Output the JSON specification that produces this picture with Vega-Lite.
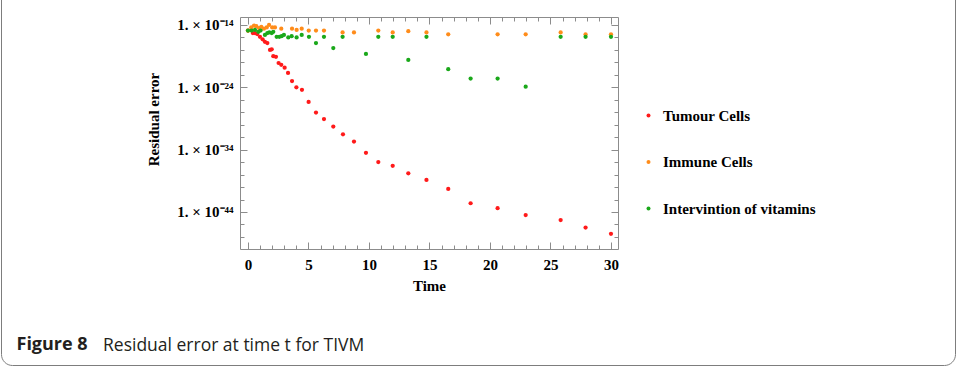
{
  "$schema": "https://vega.github.io/schema/vega-lite/v6.json",
  "width": 954,
  "height": 385,
  "autosize": {"type": "none"},
  "padding": {"left": 1, "top": -20, "right": 3, "bottom": 8},
  "background": "white",
  "view": {"stroke": "#7d7d7d", "strokeWidth": 1, "cornerRadius": 11, "fill": "white"},
  "title": {
    "text": "Residual error at time t for TIVM",
    "orient": "bottom",
    "anchor": "start",
    "frame": "group",
    "offset": -28,
    "dx": 102,
    "font": "Open Sans",
    "fontSize": 17.5,
    "fontWeight": "normal",
    "color": "#231f20"
  },
  "data": {
    "values": [
      {"t": 0, "err": 1.26e-15, "series": "Tumour Cells"},
      {"t": 0.4, "err": 5.0e-16, "series": "Tumour Cells"},
      {"t": 0.58, "err": 5.0e-16, "series": "Tumour Cells"},
      {"t": 0.77, "err": 3.55e-16, "series": "Tumour Cells"},
      {"t": 0.99, "err": 1.26e-16, "series": "Tumour Cells"},
      {"t": 1.21, "err": 5.0e-17, "series": "Tumour Cells"},
      {"t": 1.4, "err": 2.0e-17, "series": "Tumour Cells"},
      {"t": 1.6, "err": 1.26e-17, "series": "Tumour Cells"},
      {"t": 1.82, "err": 1.0e-18, "series": "Tumour Cells"},
      {"t": 1.96, "err": 1.26e-18, "series": "Tumour Cells"},
      {"t": 2.09, "err": 1.0e-19, "series": "Tumour Cells"},
      {"t": 2.31, "err": 7.94e-20, "series": "Tumour Cells"},
      {"t": 2.53, "err": 7.94e-21, "series": "Tumour Cells"},
      {"t": 2.75, "err": 3.98e-21, "series": "Tumour Cells"},
      {"t": 3.03, "err": 1.41e-21, "series": "Tumour Cells"},
      {"t": 3.31, "err": 2.0e-22, "series": "Tumour Cells"},
      {"t": 3.64, "err": 1.0e-23, "series": "Tumour Cells"},
      {"t": 4.0, "err": 1.0e-24, "series": "Tumour Cells"},
      {"t": 4.46, "err": 3.98e-25, "series": "Tumour Cells"},
      {"t": 5.01, "err": 4.47e-27, "series": "Tumour Cells"},
      {"t": 5.62, "err": 8.91e-29, "series": "Tumour Cells"},
      {"t": 6.28, "err": 7.94e-30, "series": "Tumour Cells"},
      {"t": 7.05, "err": 5.0e-31, "series": "Tumour Cells"},
      {"t": 7.85, "err": 2.82e-32, "series": "Tumour Cells"},
      {"t": 8.76, "err": 2.0e-33, "series": "Tumour Cells"},
      {"t": 9.75, "err": 3.16e-35, "series": "Tumour Cells"},
      {"t": 10.77, "err": 1.0e-36, "series": "Tumour Cells"},
      {"t": 11.96, "err": 2.51e-37, "series": "Tumour Cells"},
      {"t": 13.25, "err": 1.58e-38, "series": "Tumour Cells"},
      {"t": 14.75, "err": 1.41e-39, "series": "Tumour Cells"},
      {"t": 16.55, "err": 5.0e-41, "series": "Tumour Cells"},
      {"t": 18.4, "err": 2.51e-43, "series": "Tumour Cells"},
      {"t": 20.63, "err": 3.98e-44, "series": "Tumour Cells"},
      {"t": 22.95, "err": 3.16e-45, "series": "Tumour Cells"},
      {"t": 25.84, "err": 5.0e-46, "series": "Tumour Cells"},
      {"t": 27.9, "err": 3.16e-47, "series": "Tumour Cells"},
      {"t": 30, "err": 3.16e-48, "series": "Tumour Cells"},

      {"t": 0, "err": 1.26e-15, "series": "Immune Cells"},
      {"t": 0.27, "err": 3.98e-15, "series": "Immune Cells"},
      {"t": 0.5, "err": 7.94e-15, "series": "Immune Cells"},
      {"t": 0.69, "err": 6.31e-15, "series": "Immune Cells"},
      {"t": 0.91, "err": 3.16e-15, "series": "Immune Cells"},
      {"t": 1.1, "err": 5.0e-15, "series": "Immune Cells"},
      {"t": 1.32, "err": 2.51e-15, "series": "Immune Cells"},
      {"t": 1.55, "err": 3.98e-15, "series": "Immune Cells"},
      {"t": 1.74, "err": 1.0e-14, "series": "Immune Cells"},
      {"t": 2.0, "err": 3.98e-15, "series": "Immune Cells"},
      {"t": 2.23, "err": 3.98e-15, "series": "Immune Cells"},
      {"t": 2.75, "err": 2.51e-15, "series": "Immune Cells"},
      {"t": 3.64, "err": 2.51e-15, "series": "Immune Cells"},
      {"t": 4.02, "err": 1.58e-15, "series": "Immune Cells"},
      {"t": 4.44, "err": 2.51e-15, "series": "Immune Cells"},
      {"t": 5.02, "err": 1.26e-15, "series": "Immune Cells"},
      {"t": 5.62, "err": 1.26e-15, "series": "Immune Cells"},
      {"t": 6.28, "err": 1.26e-15, "series": "Immune Cells"},
      {"t": 7.82, "err": 6.31e-16, "series": "Immune Cells"},
      {"t": 8.76, "err": 6.31e-16, "series": "Immune Cells"},
      {"t": 10.77, "err": 1.26e-15, "series": "Immune Cells"},
      {"t": 11.96, "err": 6.31e-16, "series": "Immune Cells"},
      {"t": 13.25, "err": 1.0e-15, "series": "Immune Cells"},
      {"t": 14.75, "err": 6.31e-16, "series": "Immune Cells"},
      {"t": 16.55, "err": 3.16e-16, "series": "Immune Cells"},
      {"t": 20.63, "err": 3.16e-16, "series": "Immune Cells"},
      {"t": 22.95, "err": 3.16e-16, "series": "Immune Cells"},
      {"t": 25.84, "err": 6.31e-16, "series": "Immune Cells"},
      {"t": 27.9, "err": 3.16e-16, "series": "Immune Cells"},
      {"t": 30, "err": 3.16e-16, "series": "Immune Cells"},

      {"t": 0, "err": 1.26e-15, "series": "Intervintion of vitamins"},
      {"t": 0.3, "err": 1.26e-15, "series": "Intervintion of vitamins"},
      {"t": 0.58, "err": 1.58e-15, "series": "Intervintion of vitamins"},
      {"t": 0.85, "err": 7.94e-16, "series": "Intervintion of vitamins"},
      {"t": 1.04, "err": 1.26e-15, "series": "Intervintion of vitamins"},
      {"t": 1.4, "err": 2.51e-16, "series": "Intervintion of vitamins"},
      {"t": 1.6, "err": 5.0e-16, "series": "Intervintion of vitamins"},
      {"t": 1.76, "err": 6.31e-16, "series": "Intervintion of vitamins"},
      {"t": 1.96, "err": 5.0e-16, "series": "Intervintion of vitamins"},
      {"t": 2.09, "err": 7.94e-16, "series": "Intervintion of vitamins"},
      {"t": 2.37, "err": 1.26e-16, "series": "Intervintion of vitamins"},
      {"t": 2.59, "err": 1.26e-16, "series": "Intervintion of vitamins"},
      {"t": 2.78, "err": 1.58e-16, "series": "Intervintion of vitamins"},
      {"t": 2.97, "err": 2.51e-16, "series": "Intervintion of vitamins"},
      {"t": 3.33, "err": 1.0e-16, "series": "Intervintion of vitamins"},
      {"t": 3.61, "err": 1.58e-16, "series": "Intervintion of vitamins"},
      {"t": 4.02, "err": 1.0e-16, "series": "Intervintion of vitamins"},
      {"t": 4.44, "err": 2.51e-16, "series": "Intervintion of vitamins"},
      {"t": 5.04, "err": 1.26e-16, "series": "Intervintion of vitamins"},
      {"t": 5.62, "err": 1.26e-17, "series": "Intervintion of vitamins"},
      {"t": 6.28, "err": 1.26e-16, "series": "Intervintion of vitamins"},
      {"t": 7.05, "err": 2.0e-18, "series": "Intervintion of vitamins"},
      {"t": 7.82, "err": 1.26e-16, "series": "Intervintion of vitamins"},
      {"t": 9.75, "err": 2.24e-19, "series": "Intervintion of vitamins"},
      {"t": 10.77, "err": 1.26e-16, "series": "Intervintion of vitamins"},
      {"t": 11.96, "err": 1.26e-16, "series": "Intervintion of vitamins"},
      {"t": 13.25, "err": 2.51e-20, "series": "Intervintion of vitamins"},
      {"t": 14.75, "err": 1.26e-16, "series": "Intervintion of vitamins"},
      {"t": 16.55, "err": 7.94e-22, "series": "Intervintion of vitamins"},
      {"t": 18.4, "err": 2.51e-23, "series": "Intervintion of vitamins"},
      {"t": 20.63, "err": 2.51e-23, "series": "Intervintion of vitamins"},
      {"t": 22.95, "err": 1.26e-24, "series": "Intervintion of vitamins"},
      {"t": 25.84, "err": 1.26e-16, "series": "Intervintion of vitamins"},
      {"t": 27.9, "err": 1.26e-16, "series": "Intervintion of vitamins"},
      {"t": 30, "err": 1.26e-16, "series": "Intervintion of vitamins"}
    ]
  },
  "resolve": {"axis": {"x": "independent", "y": "independent"}},
  "layer": [
    {
      "mark": {"type": "point", "filled": true, "opacity": 1, "size": 18},
      "encoding": {
        "x": {
          "field": "t", "type": "quantitative",
          "scale": {"domain": [-0.66, 30.58], "range": [239, 617], "nice": false, "zero": false},
          "axis": {
            "orient": "bottom", "offset": -116, "ticks": false, "domain": false, "grid": false,
            "values": [0, 5, 10, 15, 20, 25, 30],
            "labelFont": "Liberation Serif", "labelFontWeight": "bold", "labelFontSize": 15, "labelColor": "black",
            "labelPadding": 8, "labelFlush": false, "labelOverlap": false,
            "title": "Time", "titleFont": "Liberation Serif", "titleFontWeight": "bold", "titleFontSize": 15,
            "titleColor": "black", "titleBaseline": "alphabetic", "titleY": 41
          }
        },
        "y": {
          "field": "err", "type": "quantitative",
          "scale": {"type": "log", "domain": [1.15e-50, 1.9e-13], "range": [269, 37], "nice": false},
          "axis": {
            "orient": "left", "offset": -239, "ticks": false, "domain": false, "grid": false,
            "values": [1e-44, 1e-34, 1e-24, 1e-14],
            "labelExpr": "datum.value < 1e-40 ? '1. × 10⁻⁴⁴' : datum.value < 1e-30 ? '1. × 10⁻³⁴' : datum.value < 1e-20 ? '1. × 10⁻²⁴' : '1. × 10⁻¹⁴'",
            "labelFont": "Liberation Serif", "labelFontWeight": "bold", "labelFontSize": 15, "labelColor": "black",
            "labelPadding": 7, "labelFlush": false, "labelOverlap": false,
            "title": "Residual error", "titleFont": "Liberation Serif", "titleFontWeight": "bold", "titleFontSize": 15,
            "titleColor": "black", "titleX": -79, "titleY": 139
          }
        },
        "color": {
          "field": "series", "type": "nominal",
          "scale": {"domain": ["Tumour Cells", "Immune Cells", "Intervintion of vitamins"], "range": ["#ff1a1a", "#ff8c1a", "#1aa81a"]},
          "legend": {
            "orient": "none", "legendX": 640, "legendY": 128, "title": null, "direction": "vertical",
            "padding": 0, "symbolType": "circle", "symbolSize": 16, "symbolStrokeWidth": 0,
            "labelFont": "Liberation Serif", "labelFontWeight": "bold", "labelFontSize": 15, "labelColor": "black",
            "labelOffset": 7, "rowPadding": 30.5
          }
        }
      }
    },
    {
      "mark": {"type": "point", "opacity": 0},
      "encoding": {
        "x": {"field": "t", "type": "quantitative", "axis": {
          "orient": "bottom", "offset": -116, "labels": false, "grid": false, "title": null,
          "domain": true, "domainColor": "#8c8c8c", "ticks": true, "tickColor": "#8c8c8c", "tickSize": -7,
          "values": [0, 5, 10, 15, 20, 25, 30]}},
        "y": {"field": "err", "type": "quantitative", "axis": {
          "orient": "left", "offset": -239, "labels": false, "grid": false, "title": null,
          "domain": true, "domainColor": "#8c8c8c", "ticks": true, "tickColor": "#8c8c8c", "tickSize": -7,
          "values": [1e-44, 1e-34, 1e-24, 1e-14]}}
      }
    },
    {
      "mark": {"type": "point", "opacity": 0},
      "encoding": {
        "x": {"field": "t", "type": "quantitative", "axis": {
          "orient": "bottom", "offset": -116, "labels": false, "grid": false,
          "domain": false, "ticks": true, "tickColor": "#8c8c8c", "tickSize": -4,
          "values": [1, 2, 3, 4, 6, 7, 8, 9, 11, 12, 13, 14, 16, 17, 18, 19, 21, 22, 23, 24, 26, 27, 28, 29],
          "title": "Figure 8", "titleFont": "Open Sans", "titleFontSize": 18, "titleFontWeight": "bold",
          "titleColor": "#231f20", "titleX": 15, "titleY": 100, "titleAlign": "left", "titleBaseline": "alphabetic", "titleAngle": 0}},
        "y": {"field": "err", "type": "quantitative", "axis": {
          "orient": "left", "offset": -239, "labels": false, "grid": false, "title": null,
          "domain": false, "ticks": true, "tickColor": "#8c8c8c", "tickSize": -4,
          "values": [1e-48, 1e-46, 1e-42, 1e-40, 1e-38, 1e-36, 1e-32, 1e-30, 1e-28, 1e-26, 1e-22, 1e-20, 1e-18, 1e-16]}}
      }
    },
    {
      "mark": {"type": "point", "opacity": 0},
      "encoding": {
        "x": {"field": "t", "type": "quantitative", "axis": {
          "orient": "top", "offset": -37, "labels": false, "grid": false, "title": null,
          "domain": true, "domainColor": "#8c8c8c", "ticks": true, "tickColor": "#8c8c8c", "tickSize": -7,
          "values": [0, 5, 10, 15, 20, 25, 30]}},
        "y": {"field": "err", "type": "quantitative", "axis": {
          "orient": "right", "offset": -337, "labels": false, "grid": false, "title": null,
          "domain": true, "domainColor": "#8c8c8c", "ticks": true, "tickColor": "#8c8c8c", "tickSize": -7,
          "values": [1e-44, 1e-34, 1e-24, 1e-14]}}
      }
    },
    {
      "mark": {"type": "point", "opacity": 0},
      "encoding": {
        "x": {"field": "t", "type": "quantitative", "axis": {
          "orient": "top", "offset": -37, "labels": false, "grid": false, "title": null,
          "domain": false, "ticks": true, "tickColor": "#8c8c8c", "tickSize": -4,
          "values": [1, 2, 3, 4, 6, 7, 8, 9, 11, 12, 13, 14, 16, 17, 18, 19, 21, 22, 23, 24, 26, 27, 28, 29]}},
        "y": {"field": "err", "type": "quantitative", "axis": {
          "orient": "right", "offset": -337, "labels": false, "grid": false, "title": null,
          "domain": false, "ticks": true, "tickColor": "#8c8c8c", "tickSize": -4,
          "values": [1e-48, 1e-46, 1e-42, 1e-40, 1e-38, 1e-36, 1e-32, 1e-30, 1e-28, 1e-26, 1e-22, 1e-20, 1e-18, 1e-16]}}
      }
    }
  ]
}
